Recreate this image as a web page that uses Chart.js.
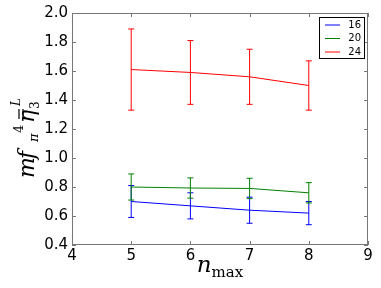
<!DOCTYPE html>
<html>
<head>
<meta charset="utf-8">
<script src="https://cdn.jsdelivr.net/npm/chart.js@4.4.1/dist/chart.umd.min.js"></script>
<style>
html,body{margin:0;padding:0;background:#fff;}
#wrap{width:381px;height:288px;position:relative;}
</style>
</head>
<body>
<div id="wrap"><canvas id="c" width="381" height="288"></canvas></div>
<script>
const nmax = [5, 6, 7, 8];
const seriesLabels = ['16', '20', '24'];
const seriesColors = ['#0000ff', '#008000', '#ff0000'];
const values16 = [0.70, 0.67, 0.64, 0.62];
const errors16 = [0.11, 0.09, 0.09, 0.08];
const values20 = [0.80, 0.793, 0.79, 0.76];
const errors20 = [0.09, 0.07, 0.07, 0.07];
const values24 = [1.61, 1.59, 1.56, 1.50];
const errors24 = [0.28, 0.22, 0.19, 0.17];
const xTicks = [4, 5, 6, 7, 8, 9];
const yTicks = [0.4, 0.6, 0.8, 1.0, 1.2, 1.4, 1.6, 1.8, 2.0];

const allValues = [values16, values20, values24];
const allErrors = [errors16, errors20, errors24];

const datasets = allValues.map((vals, i) => ({
  label: seriesLabels[i],
  data: nmax.map((x, j) => ({x: x, y: vals[j]})),
  errors: allErrors[i],
  borderColor: seriesColors[i],
  backgroundColor: seriesColors[i],
  borderWidth: 1,
  pointRadius: 0,
  tension: 0,
  fill: false
}));

const errorBarPlugin = {
  id: 'errorBars',
  afterDatasetsDraw(chart) {
    const ctx = chart.ctx;
    const xs = chart.scales.x, ys = chart.scales.y;
    ctx.save();
    chart.data.datasets.forEach(ds => {
      ctx.strokeStyle = ds.borderColor;
      ctx.lineWidth = 1;
      ds.data.forEach((p, j) => {
        const e = ds.errors[j];
        const px = xs.getPixelForValue(p.x);
        const top = ys.getPixelForValue(p.y + e);
        const bot = ys.getPixelForValue(p.y - e);
        ctx.beginPath();
        ctx.moveTo(px, top); ctx.lineTo(px, bot);
        ctx.moveTo(px - 3, top); ctx.lineTo(px + 3, top);
        ctx.moveTo(px - 3, bot); ctx.lineTo(px + 3, bot);
        ctx.stroke();
      });
    });
    ctx.restore();
  }
};

const framePlugin = {
  id: 'frame',
  afterDraw(chart) {
    const ctx = chart.ctx;
    const a = chart.chartArea;
    const xs = chart.scales.x, ys = chart.scales.y;
    ctx.save();
    ctx.strokeStyle = '#777777';
    ctx.lineWidth = 1;
    ctx.strokeRect(Math.round(a.left) + 0.5, Math.round(a.top) + 0.5, Math.round(a.right - a.left) - 1, Math.round(a.bottom - a.top) - 1);
    ctx.beginPath();
    xTicks.forEach(v => {
      const px = Math.round(xs.getPixelForValue(v)) + 0.5;
      ctx.moveTo(px, a.bottom); ctx.lineTo(px, a.bottom - 4);
      ctx.moveTo(px, a.top); ctx.lineTo(px, a.top + 4);
    });
    yTicks.forEach(v => {
      const py = Math.round(ys.getPixelForValue(v)) + 0.5;
      ctx.moveTo(a.left, py); ctx.lineTo(a.left + 4, py);
      ctx.moveTo(a.right, py); ctx.lineTo(a.right - 4, py);
    });
    ctx.stroke();

    // legend
    const lx = 319.5, ly = 17.5, lw = 45, lh = 41;
    ctx.fillStyle = '#ffffff';
    ctx.fillRect(lx, ly, lw, lh);
    ctx.strokeStyle = '#000000';
    ctx.strokeRect(lx, ly, lw, lh);
    ctx.font = '10px "DejaVu Sans"';
    ctx.textAlign = 'right';
    ctx.textBaseline = 'middle';
    chart.data.datasets.forEach((ds, i) => {
      const yy = 25 + i * 13.5;
      ctx.strokeStyle = ds.borderColor;
      ctx.beginPath();
      ctx.moveTo(325, yy); ctx.lineTo(340, yy);
      ctx.stroke();
      ctx.fillStyle = '#000';
      ctx.fillText(ds.label, 361, yy);
    });

    // x title: n_max
    ctx.fillStyle = '#000';
    ctx.textAlign = 'left';
    ctx.textBaseline = 'alphabetic';
    ctx.font = 'italic 23px "DejaVu Serif"';
    const nW = ctx.measureText('n').width;
    ctx.font = '15px "DejaVu Serif"';
    const mW = ctx.measureText('max').width;
    const cx = (a.left + a.right) / 2;
    const sx = cx - (nW + mW) / 2;
    ctx.font = 'italic 23px "DejaVu Serif"';
    ctx.fillText('n', sx, 272);
    ctx.font = '15px "DejaVu Serif"';
    ctx.fillText('max', sx + nW, 277);

    // y title: m f_pi^4 eta-doublebar_3^L
    ctx.save();
    ctx.translate(34, 178);
    ctx.rotate(-Math.PI / 2);
    ctx.font = 'italic 22px "DejaVu Serif"';
    ctx.fillText('m', 0, 0);
    ctx.fillText('f', 19, 0);
    ctx.font = 'italic 13px "DejaVu Serif"';
    ctx.fillText('\u03c0', 36, 4);
    ctx.font = '13px "DejaVu Serif"';
    ctx.fillText('4', 45, -11);
    ctx.font = 'italic 22px "DejaVu Serif"';
    ctx.fillText('\u03b7', 55, 0);
    ctx.strokeStyle = '#000';
    ctx.lineWidth = 1.2;
    ctx.beginPath();
    ctx.moveTo(59, -11); ctx.lineTo(69, -11);
    ctx.moveTo(59, -15); ctx.lineTo(69, -15);
    ctx.stroke();
    ctx.font = '12px "DejaVu Serif"';
    ctx.fillText('3', 69, 5);
    ctx.font = 'italic 12px "DejaVu Serif"';
    ctx.fillText('L', 72, -14);
    ctx.restore();

    ctx.restore();
  }
};

new Chart(document.getElementById('c'), {
  type: 'line',
  data: { datasets: datasets },
  options: {
    responsive: false,
    animation: false,
    events: [],
    layout: { padding: { top: 13, right: 13, left: 0, bottom: 0 } },
    plugins: { legend: { display: false }, tooltip: { enabled: false }, title: { display: false } },
    scales: {
      x: {
        type: 'linear',
        min: 4, max: 9,
        afterBuildTicks: s => { s.ticks = xTicks.map(v => ({value: v})); },
        afterFit: s => { s.height = 43; },
        grid: { display: false, drawTicks: false },
        border: { display: false },
        ticks: { color: '#000', font: { family: 'DejaVu Sans', size: 15 }, padding: 2, maxRotation: 0, callback: v => String(v) }
      },
      y: {
        type: 'linear',
        min: 0.4, max: 2.0,
        afterBuildTicks: s => { s.ticks = yTicks.map(v => ({value: v})); },
        afterFit: s => { s.width = 72; },
        grid: { display: false, drawTicks: false },
        border: { display: false },
        ticks: { color: '#000', font: { family: 'DejaVu Sans', size: 15 }, padding: 4, callback: v => Number(v).toFixed(1) }
      }
    }
  },
  plugins: [errorBarPlugin, framePlugin]
});
</script>
</body>
</html>
